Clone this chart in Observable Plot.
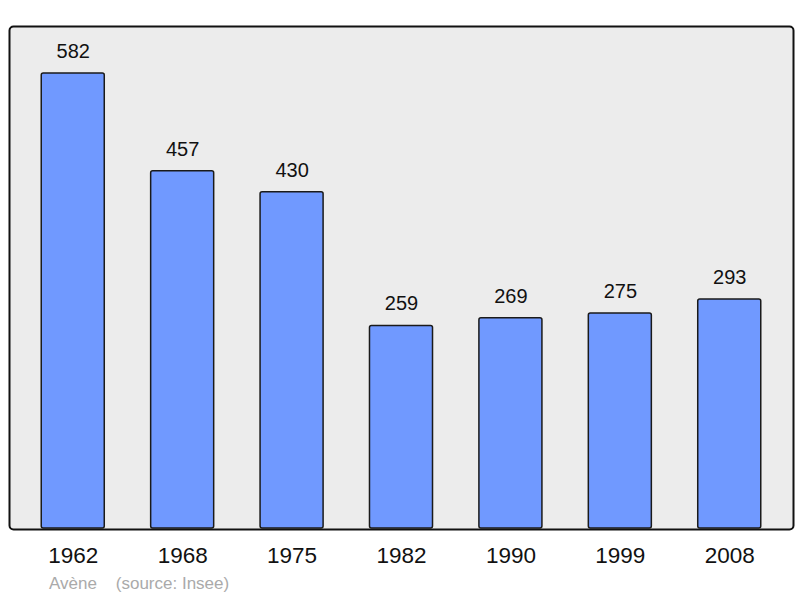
<!DOCTYPE html>
<html>
<head>
<meta charset="utf-8">
<script src="https://cdn.jsdelivr.net/npm/d3@7"></script>
<script src="https://cdn.jsdelivr.net/npm/@observablehq/plot@0.6"></script>
<style>
  html, body { margin: 0; padding: 0; background: #fff; }
  #chart { width: 800px; height: 570px; }
  #caption { font-family: "Liberation Sans", Arial, sans-serif; font-size: 17px; color: #aaaaaa; margin: 3px 0 0 49px; line-height: 22px; white-space: pre; }
</style>
</head>
<body>
<div id="chart"></div>
<div id="caption"></div>
<script>
const years = ["1962", "1968", "1975", "1982", "1990", "1999", "2008"];
const population = [582, 457, 430, 259, 269, 275, 293];
const commune = "Avène";
const source = "(source: Insee)";

const data = years.map((y, i) => ({year: y, value: population[i]}));

const chart = Plot.plot({
  width: 800,
  height: 570,
  marginTop: 27,
  marginBottom: 42,
  marginLeft: 10,
  marginRight: 8,
  style: {fontFamily: "'Liberation Sans', Arial, sans-serif", background: "#fff", overflow: "visible", display: "block"},
  x: {domain: years, paddingInner: 0.424, paddingOuter: 0.2855, round: false, label: null},
  y: {domain: [0, 640.8], axis: null},
  marks: [
    Plot.frame({fill: "#ececec", stroke: "none", rx: 4, inset: -1}),
    Plot.barY(data, {x: "year", y: "value", fill: "#7099ff", stroke: "#1a1a1a", strokeWidth: 1.5, rx: 2}),
    Plot.text(data, {x: "year", y: "value", text: d => String(d.value), dy: -22, fontSize: 20, fill: "#111"}),
    Plot.axisX({tickSize: 0, tickPadding: 19, fontSize: 22.5, label: null, color: "#111"}),
    Plot.frame({stroke: "#111", strokeWidth: 2, rx: 4, inset: -1})
  ]
});
document.getElementById("chart").appendChild(chart);
document.getElementById("caption").textContent = commune + "    " + source;
</script>
</body>
</html>
